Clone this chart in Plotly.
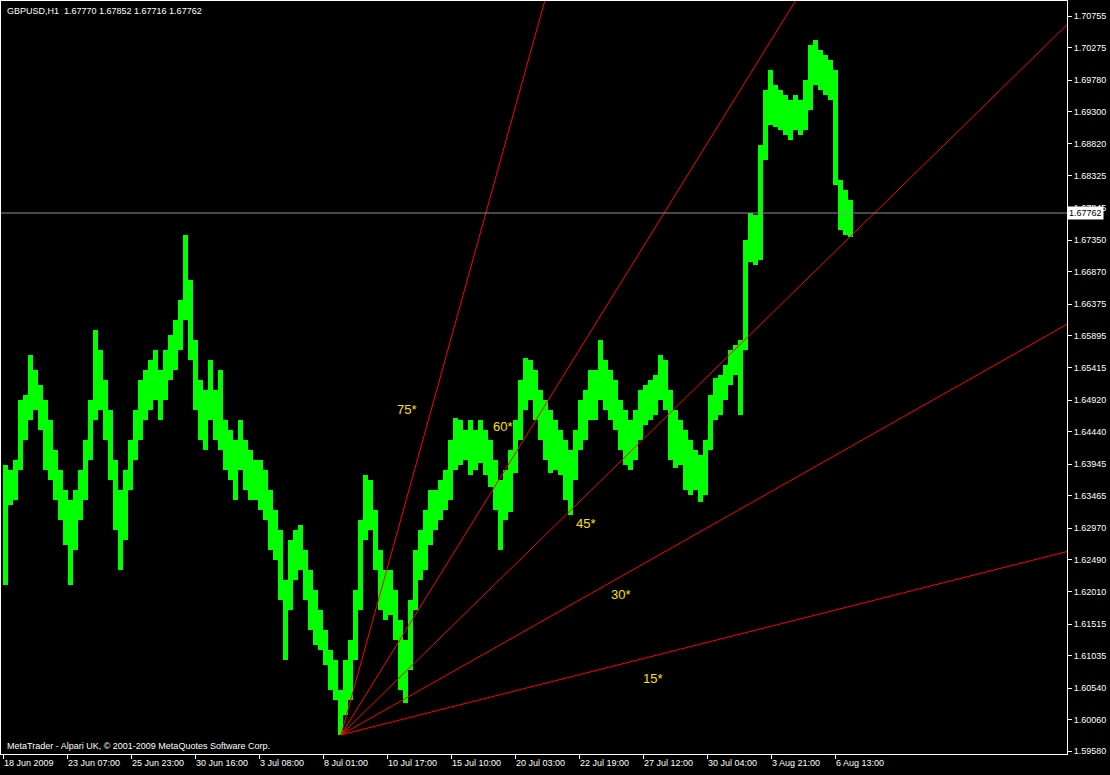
import plotly.graph_objects as go

# GBPUSD H1 price ranges in blocks of 5 hourly bars
block_size = 5
highs = [
    1.6393, 1.6386, 1.6401, 1.6492, 1.6500, 1.6560, 1.6538, 1.6515, 1.6492, 1.6462,
    1.6416, 1.6386, 1.6355, 1.6340, 1.6355, 1.6386, 1.6431, 1.6492, 1.6598, 1.6568,
    1.6522, 1.6477, 1.6401, 1.6355, 1.6386, 1.6431, 1.6477, 1.6522, 1.6538, 1.6553,
    1.6568, 1.6538, 1.6568, 1.6591, 1.6614, 1.6644, 1.6743, 1.6674, 1.6583, 1.6522,
    1.6507, 1.6553, 1.6507, 1.6538, 1.6462, 1.6446, 1.6431, 1.6462, 1.6431, 1.6416,
    1.6401, 1.6401, 1.6386, 1.6355, 1.6325, 1.6294, 1.6218, 1.6279, 1.6294, 1.6302,
    1.6264, 1.6234, 1.6203, 1.6173, 1.6142, 1.6112, 1.6097, 1.6051, 1.6097, 1.6127,
    1.6203, 1.6310, 1.6378, 1.6370, 1.6325, 1.6264, 1.6234, 1.6234, 1.6203, 1.6158,
    1.6127, 1.6188, 1.6264, 1.6294, 1.6325, 1.6355, 1.6355, 1.6370, 1.6386, 1.6431,
    1.6465, 1.6462, 1.6446, 1.6462, 1.6446, 1.6462, 1.6446, 1.6431, 1.6401, 1.6370,
    1.6386, 1.6416, 1.6462, 1.6522, 1.6556, 1.6553, 1.6538, 1.6507, 1.6492, 1.6477,
    1.6462, 1.6446, 1.6431, 1.6416, 1.6446, 1.6492, 1.6507, 1.6538, 1.6538, 1.6583,
    1.6553, 1.6538, 1.6522, 1.6492, 1.6477, 1.6462, 1.6477, 1.6507, 1.6515, 1.6522,
    1.6530, 1.6560, 1.6553, 1.6507, 1.6477, 1.6462, 1.6446, 1.6431, 1.6416, 1.6408,
    1.6431, 1.6500, 1.6525, 1.6530, 1.6545, 1.6568, 1.6576, 1.6583, 1.6735, 1.6776,
    1.6773, 1.6880, 1.6963, 1.6994, 1.6971, 1.6963, 1.6956, 1.6948, 1.6956, 1.6948,
    1.6978, 1.7032, 1.7039, 1.7024, 1.7016, 1.7009, 1.6994, 1.6826, 1.6811, 1.6796,
]
lows = [
    1.6211, 1.6332, 1.6340, 1.6386, 1.6431, 1.6462, 1.6477, 1.6446, 1.6386, 1.6370,
    1.6340, 1.6310, 1.6272, 1.6211, 1.6264, 1.6310, 1.6340, 1.6401, 1.6462, 1.6477,
    1.6431, 1.6370, 1.6294, 1.6234, 1.6279, 1.6355, 1.6401, 1.6431, 1.6462, 1.6477,
    1.6492, 1.6462, 1.6492, 1.6522, 1.6538, 1.6568, 1.6614, 1.6553, 1.6477, 1.6431,
    1.6416, 1.6462, 1.6431, 1.6416, 1.6386, 1.6370, 1.6340, 1.6386, 1.6355, 1.6340,
    1.6340, 1.6325, 1.6310, 1.6264, 1.6249, 1.6188, 1.6097, 1.6173, 1.6218, 1.6234,
    1.6188, 1.6142, 1.6120, 1.6112, 1.6089, 1.6051, 1.6036, 1.5983, 1.6013, 1.6036,
    1.6097, 1.6173, 1.6279, 1.6294, 1.6234, 1.6173, 1.6158, 1.6165, 1.6127, 1.6051,
    1.6031, 1.6082, 1.6173, 1.6218, 1.6234, 1.6272, 1.6294, 1.6310, 1.6325, 1.6340,
    1.6386, 1.6393, 1.6401, 1.6378, 1.6386, 1.6396, 1.6378, 1.6360, 1.6325, 1.6264,
    1.6310, 1.6322, 1.6381, 1.6431, 1.6477, 1.6492, 1.6462, 1.6431, 1.6401, 1.6381,
    1.6386, 1.6378, 1.6340, 1.6317, 1.6370, 1.6416, 1.6431, 1.6462, 1.6462, 1.6492,
    1.6477, 1.6462, 1.6446, 1.6416, 1.6393, 1.6386, 1.6401, 1.6431, 1.6454, 1.6462,
    1.6469, 1.6492, 1.6477, 1.6401, 1.6389, 1.6393, 1.6355, 1.6348, 1.6355, 1.6337,
    1.6348, 1.6416, 1.6462, 1.6469, 1.6492, 1.6515, 1.6530, 1.6469, 1.6568, 1.6702,
    1.6697, 1.6705, 1.6857, 1.6910, 1.6907, 1.6902, 1.6895, 1.6887, 1.6902, 1.6895,
    1.6902, 1.6933, 1.6971, 1.6963, 1.6956, 1.6948, 1.6819, 1.6750, 1.6743, 1.6740,
]

# time axis (bar index, one H1 bar per index)
x_tick_bars = [0, 64, 128, 192, 256, 320, 384, 448, 512, 576, 640, 704, 768, 832]
x_tick_labels = ["18 Jun 2009", "23 Jun 07:00", "25 Jun 23:00", "30 Jun 16:00",
                 "3 Jul 08:00", "8 Jul 01:00", "10 Jul 17:00", "15 Jul 10:00",
                 "20 Jul 03:00", "22 Jul 19:00", "27 Jul 12:00", "30 Jul 04:00",
                 "3 Aug 21:00", "6 Aug 13:00"]
y_tick_values = [1.70755, 1.70275, 1.69780, 1.69300, 1.68820, 1.68325, 1.67845,
                 1.67350, 1.66870, 1.66375, 1.65895, 1.65415, 1.64920, 1.64440,
                 1.63945, 1.63465, 1.62970, 1.62490, 1.62010, 1.61515, 1.61035,
                 1.60540, 1.60060, 1.59580]

# last quote
quote_open, quote_high, quote_low, quote_close = 1.67770, 1.67852, 1.67716, 1.67762

# angle fan drawn from the 8 Jul low
fan_origin_bar, fan_origin_price = 338, 1.5983
fan_names = ["75*", "60*", "45*", "30*", "15*"]
fan_end_bar = [542, 793, 1065, 1065, 1065]
fan_end_price = [1.7100, 1.7100, 1.7064, 1.6608, 1.6262]
fan_label_bar = [404, 500, 583, 618, 650]
fan_label_price = [1.6477, 1.6452, 1.6305, 1.6197, 1.6069]

FONT = "Liberation Sans"
fig = go.Figure()

centers = [i * block_size + (block_size - 1) / 2 for i in range(len(highs))]
fig.add_trace(go.Bar(
    x=centers, y=[h - l for h, l in zip(highs, lows)], base=lows,
    width=block_size, marker=dict(color="#00ff00", line=dict(width=0)),
    hoverinfo="skip", showlegend=False))

# bid line
fig.add_shape(type="line", xref="paper", x0=0, x1=1, yref="y",
              y0=quote_close, y1=quote_close, line=dict(color="#8a93a0", width=1))

for eb, ep in zip(fan_end_bar, fan_end_price):
    fig.add_trace(go.Scatter(x=[fan_origin_bar, eb], y=[fan_origin_price, ep],
                             mode="lines", line=dict(color="#ff0000", width=1),
                             hoverinfo="skip", showlegend=False))

for name, lb, lp in zip(fan_names, fan_label_bar, fan_label_price):
    fig.add_annotation(x=lb, y=lp, text=name, showarrow=False,
                       font=dict(family=FONT, size=13, color="#ffe000"))

fig.add_annotation(xref="paper", yref="paper", x=0, y=1, xanchor="left", yanchor="top",
                   xshift=4, yshift=-3, showarrow=False,
                   text=f"GBPUSD,H1  {quote_open:.5f} {quote_high:.5f} {quote_low:.5f} {quote_close:.5f}",
                   font=dict(family=FONT, size=9, color="white"))
fig.add_annotation(xref="paper", yref="paper", x=0, y=0, xanchor="left", yanchor="bottom",
                   xshift=4, yshift=1, showarrow=False,
                   text="MetaTrader - Alpari UK, © 2001-2009 MetaQuotes Software Corp.",
                   font=dict(family=FONT, size=9, color="white"))
fig.add_annotation(xref="paper", yref="y", x=1, y=quote_close, xanchor="left",
                   yanchor="middle", xshift=0, showarrow=False, text=f"{quote_close:.5f}",
                   bgcolor="white", borderpad=1,
                   font=dict(family=FONT, size=9, color="black"))

axis_common = dict(showline=True, linecolor="white", linewidth=1, mirror=True,
                   ticks="outside", ticklen=4, tickcolor="white", showgrid=False,
                   zeroline=False, fixedrange=True,
                   tickfont=dict(family=FONT, size=9, color="white"))
fig.update_layout(
    width=1110, height=775, margin=dict(l=1, r=43, t=1, b=21, pad=0),
    paper_bgcolor="black", plot_bgcolor="black", showlegend=False, bargap=0,
    xaxis=dict(range=[-2, 1064], tickvals=x_tick_bars, ticktext=x_tick_labels,
               ticklabelposition="outside right", **axis_common),
    yaxis=dict(range=[1.59539, 1.70985], side="right", tickvals=y_tick_values,
               ticktext=[f"{v:.5f}" for v in y_tick_values], **axis_common),
)
fig.write_html("out.html", config={"displayModeBar": False},
               post_script="document.body.style.margin='0';"
                           "document.body.style.background='black';"
                           "document.body.style.overflow='hidden';")
